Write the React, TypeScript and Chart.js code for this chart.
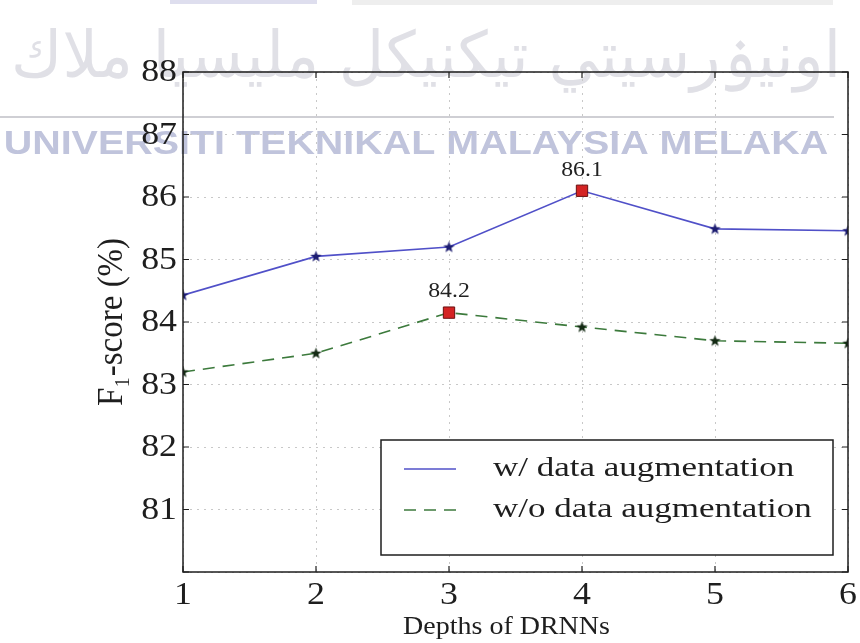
import React, { useEffect, useRef } from "react";
import { Chart, registerables } from "chart.js";

Chart.register(...registerables);

const depths = [1, 2, 3, 4, 5, 6];
const withAug = [84.43, 85.05, 85.2, 86.1, 85.49, 85.46];
const withoutAug = [83.2, 83.5, 84.15, 83.92, 83.7, 83.66];
const seriesLabels = ["w/ data augmentation", "w/o data augmentation"];
const peakText = ["86.1", "84.2"];
const peakIndex = [3, 2];
const yMin = 80;
const yMax = 88;
const xTitle = "Depths of DRNNs";
const yTitle = "F\u2081-score (%)";
const watermarkLatin = "UNIVERSITI TEKNIKAL MALAYSIA MELAKA";
const watermarkArabic = "اونيۏرسيتي تيكنيكل مليسيا ملاك";

const SERIF = "'Liberation Serif', 'DejaVu Serif', serif";
const INK = "#1e1e1e";
const SX = 1.16; // horizontal stretch of the reference picture

function makeStar(color: string): HTMLCanvasElement {
  const c = document.createElement("canvas");
  c.width = 13;
  c.height = 13;
  const ctx = c.getContext("2d")!;
  ctx.fillStyle = color;
  ctx.beginPath();
  for (let i = 0; i < 10; i++) {
    const r = i % 2 === 0 ? 6 : 2.5;
    const a = -Math.PI / 2 + (i * Math.PI) / 5;
    const x = 6.5 + r * Math.cos(a);
    const y = 6.8 + r * Math.sin(a);
    if (i === 0) ctx.moveTo(x, y);
    else ctx.lineTo(x, y);
  }
  ctx.closePath();
  ctx.fill();
  return c;
}

function stretchedText(
  ctx: CanvasRenderingContext2D,
  text: string,
  x: number,
  y: number,
  font: string,
  align: CanvasTextAlign,
  baseline: CanvasTextBaseline,
  sx: number,
  color: string
) {
  ctx.save();
  ctx.translate(x, y);
  ctx.scale(sx, 1);
  ctx.font = font;
  ctx.fillStyle = color;
  ctx.textAlign = align;
  ctx.textBaseline = baseline;
  ctx.fillText(text, 0, 0);
  ctx.restore();
}

export default function App() {
  const ref = useRef<HTMLCanvasElement | null>(null);

  useEffect(() => {
    if (!ref.current) return;
    const blueStar = makeStar("#1c1c70");
    const greenStar = makeStar("#142a14");
    const styles = (star: HTMLCanvasElement, peak: number) =>
      depths.map((_, i) => (i === peak ? "rect" : star));
    const fills = (c: string, peak: number) => depths.map((_, i) => (i === peak ? "#d42424" : c));
    const borders = (c: string, peak: number) => depths.map((_, i) => (i === peak ? "#6a1010" : c));
    const radii = (peak: number) => depths.map((_, i) => (i === peak ? 8 : 6));

    const watermarkPlugin = {
      id: "watermark",
      beforeDraw(chart: any) {
        const ctx = chart.ctx as CanvasRenderingContext2D;
        ctx.save();
        ctx.fillStyle = "#ffffff";
        ctx.fillRect(0, 0, chart.width, chart.height);
        ctx.fillStyle = "#dedeee";
        ctx.fillRect(170, 0, 147, 4);
        ctx.fillStyle = "#eeeeee";
        ctx.fillRect(352, 0, 481, 5);
        ctx.fillStyle = "#cfcfd4";
        ctx.fillRect(0, 116, 834, 2);
        ctx.fillStyle = "#e0e0e6";
        ctx.font = "64px 'DejaVu Sans', sans-serif";
        ctx.textAlign = "center";
        ctx.textBaseline = "middle";
        (ctx as any).direction = "rtl";
        ctx.fillText(watermarkArabic, 426, 60, 830);
        (ctx as any).direction = "ltr";
        ctx.restore();
        stretchedText(
          ctx,
          watermarkLatin,
          416,
          145,
          "bold 34px 'Liberation Sans', 'DejaVu Sans', sans-serif",
          "center",
          "middle",
          SX,
          "#c0c4dc"
        );
      },
    };

    const framePlugin = {
      id: "frame",
      afterDraw(chart: any) {
        const ctx = chart.ctx as CanvasRenderingContext2D;
        const { left, right, top, bottom } = chart.chartArea;
        const xs = chart.scales.x;
        const ys = chart.scales.y;
        ctx.save();
        ctx.strokeStyle = INK;
        ctx.lineWidth = 1.5;
        ctx.strokeRect(left, top, right - left, bottom - top);
        ctx.lineWidth = 1.2;
        ctx.beginPath();
        for (const t of xs.ticks) {
          const px = xs.getPixelForValue(t.value);
          ctx.moveTo(px, bottom);
          ctx.lineTo(px, bottom - 6);
          ctx.moveTo(px, top);
          ctx.lineTo(px, top + 6);
        }
        for (const t of ys.ticks) {
          const py = ys.getPixelForValue(t.value);
          ctx.moveTo(left, py);
          ctx.lineTo(left + 6, py);
          ctx.moveTo(right, py);
          ctx.lineTo(right - 6, py);
        }
        ctx.stroke();
        ctx.restore();

        // tick labels
        const tickFont = `32px ${SERIF}`;
        for (const t of xs.ticks) {
          stretchedText(ctx, String(t.value), xs.getPixelForValue(t.value), 596, tickFont, "center", "middle", 1.12, INK);
        }
        for (const t of ys.ticks) {
          if (t.value === yMin) continue;
          stretchedText(ctx, String(t.value), left - 6, ys.getPixelForValue(t.value) + 1, tickFont, "right", "middle", 1.12, INK);
        }

        // axis titles
        stretchedText(ctx, xTitle, (left + right) / 2 - 9, 627, `25px ${SERIF}`, "center", "middle", 1.12, INK);
        ctx.save();
        ctx.translate(112, (top + bottom) / 2);
        ctx.scale(1.1, 1);
        ctx.rotate(-Math.PI / 2);
        ctx.font = `33px ${SERIF}`;
        ctx.fillStyle = INK;
        ctx.textAlign = "center";
        ctx.textBaseline = "middle";
        ctx.fillText(yTitle, 0, 0);
        ctx.restore();

        // peak labels
        chart.data.datasets.forEach((ds: any, di: number) => {
          const meta = chart.getDatasetMeta(di);
          const pt = meta.data[peakIndex[di]];
          stretchedText(ctx, peakText[di], pt.x, pt.y - 10, `22px ${SERIF}`, "center", "bottom", 1.08, "#222");
        });

        // legend
        const bw = 452;
        const bh = 115;
        const bx = right - 15 - bw;
        const by = bottom - 17 - bh;
        ctx.save();
        ctx.fillStyle = "#ffffff";
        ctx.fillRect(bx, by, bw, bh);
        ctx.strokeStyle = INK;
        ctx.lineWidth = 1.5;
        ctx.strokeRect(bx, by, bw, bh);
        ctx.restore();
        chart.data.datasets.forEach((ds: any, di: number) => {
          const ly = by + 29 + di * 41;
          ctx.save();
          ctx.strokeStyle = ds.borderColor;
          ctx.lineWidth = ds.borderWidth;
          ctx.setLineDash(ds.borderDash || []);
          ctx.beginPath();
          ctx.moveTo(bx + 23, ly);
          ctx.lineTo(bx + 75, ly);
          ctx.stroke();
          ctx.restore();
          stretchedText(ctx, ds.label, bx + 112, ly, `28px ${SERIF}`, "left", "middle", 1.25, INK);
        });
      },
    };

    const chart = new Chart(ref.current, {
      type: "line",
      data: {
        datasets: [
          {
            label: seriesLabels[0],
            data: depths.map((d, i) => ({ x: d, y: withAug[i] })),
            borderColor: "#5050c8",
            borderWidth: 1.6,
            pointStyle: styles(blueStar, peakIndex[0]) as any,
            pointBackgroundColor: fills("#1c1c70", peakIndex[0]),
            pointBorderColor: borders("#1c1c70", peakIndex[0]),
            pointBorderWidth: 1,
            pointRadius: radii(peakIndex[0]),
            tension: 0,
          },
          {
            label: seriesLabels[1],
            data: depths.map((d, i) => ({ x: d, y: withoutAug[i] })),
            borderColor: "#3c7a3c",
            borderWidth: 1.6,
            borderDash: [12, 8],
            pointStyle: styles(greenStar, peakIndex[1]) as any,
            pointBackgroundColor: fills("#142a14", peakIndex[1]),
            pointBorderColor: borders("#142a14", peakIndex[1]),
            pointBorderWidth: 1,
            pointRadius: radii(peakIndex[1]),
            tension: 0,
          },
        ],
      },
      options: {
        animation: false,
        responsive: false,
        maintainAspectRatio: false,
        layout: { padding: { top: 72, right: 12, left: 0, bottom: 0 } },
        plugins: { legend: { display: false }, tooltip: { enabled: false } },
        scales: {
          x: {
            type: "linear",
            min: 1,
            max: 6,
            afterFit: (s: any) => {
              s.height = 71;
            },
            grid: { color: "#c8c8c8", lineWidth: 1, drawTicks: false },
            border: { display: false, dash: [2, 5] },
            ticks: { stepSize: 1, display: false },
          },
          y: {
            type: "linear",
            min: yMin,
            max: yMax,
            afterFit: (s: any) => {
              s.width = 183;
            },
            grid: { color: "#c8c8c8", lineWidth: 1, drawTicks: false },
            border: { display: false, dash: [2, 5] },
            ticks: { stepSize: 1, display: false },
          },
        },
      },
      plugins: [watermarkPlugin, framePlugin],
    });
    return () => chart.destroy();
  }, []);

  return (
    <div style={{ position: "fixed", left: 0, top: 0, width: 860, height: 643, background: "#fff" }}>
      <canvas ref={ref} width={860} height={643} style={{ display: "block" }} />
    </div>
  );
}
